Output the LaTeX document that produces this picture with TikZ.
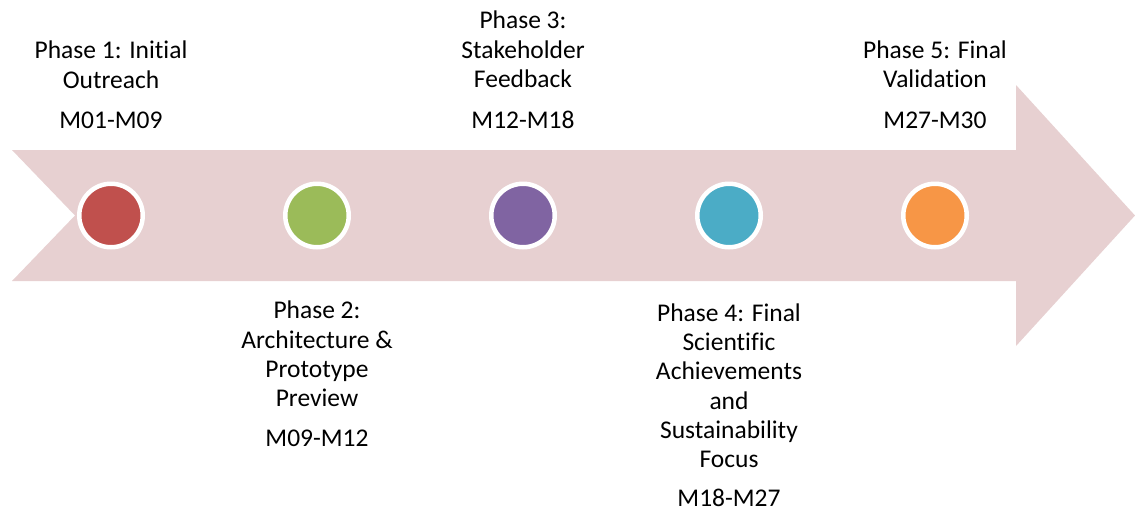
\documentclass[tikz,border=0pt]{standalone}
\usepackage{fontspec}
\setmainfont{Carlito}[Ligatures=NoCommon]
\definecolor{arrowfill}{HTML}{E7D0D1}
\definecolor{dotA}{HTML}{C0504D}
\definecolor{dotB}{HTML}{9BBB59}
\definecolor{dotC}{HTML}{8064A2}
\definecolor{dotD}{HTML}{4BACC6}
\definecolor{dotE}{HTML}{F79646}
\tikzset{
  milestone/.style={circle, draw=white, line width=4.5pt, minimum size=63.5pt,
                    inner sep=0pt, outer sep=0pt},
  % multi-line labels are placed by the baseline of their last line
  phasetext/.style={align=center, anchor=base, inner sep=0pt,
                    font=\fontsize{25.5}{29.3}\selectfont},
  datetext/.style={anchor=base, inner sep=0pt, font=\fontsize{25.5}{29.3}\selectfont}
}
\begin{document}
\begin{tikzpicture}[x=1pt, y=-1pt]
  \useasboundingbox (0,0) rectangle (1135,509);
  % timeline arrow with notched tail
  \fill[arrowfill] (12,150) -- (1016,150) -- (1016,85) -- (1135,215.5)
        -- (1016,346) -- (1016,281) -- (12,281) -- (75,215.5) -- cycle;
  % milestones
  \node[milestone, fill=dotA] (m1) at (111,215.5) {};
  \node[milestone, fill=dotB] (m2) at (317,215.5) {};
  \node[milestone, fill=dotC] (m3) at (523,215.5) {};
  \node[milestone, fill=dotD] (m4) at (729,215.5) {};
  \node[milestone, fill=dotE] (m5) at (935,215.5) {};
  % phase labels above the arrow
  \node[phasetext] (p1) at (111,88) {Phase 1: Initial\\Outreach};
  \node[datetext]  (d1) at (111,128.3) {M01-M09};
  \node[phasetext] (p3) at (523,87.5) {Phase 3:\\Stakeholder\\Feedback};
  \node[datetext]  (d3) at (523,128.3) {M12-M18};
  \node[phasetext] (p5) at (935,87.5) {Phase 5: Final\\Validation};
  \node[datetext]  (d5) at (935,128.3) {M27-M30};
  % phase labels below the arrow
  \node[phasetext] (p2) at (317,406.7) {Phase 2:\\Architecture \&\\Prototype\\Preview};
  \node[datetext]  (d2) at (317,446.7) {M09-M12};
  \node[phasetext] (p4) at (729,467.7) {Phase 4: Final\\Scientific\\Achievements\\and\\Sustainability\\Focus};
  \node[datetext]  (d4) at (729,506.7) {M18-M27};
\end{tikzpicture}
\end{document}
